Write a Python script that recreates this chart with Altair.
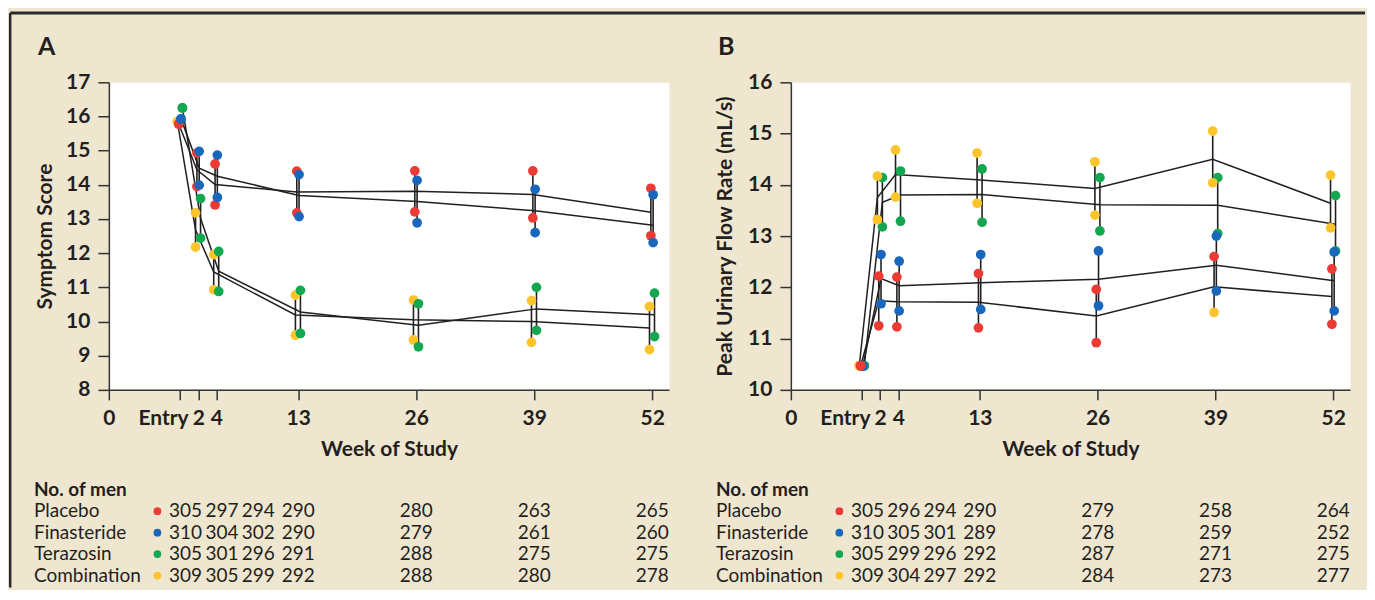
import altair as alt
import pandas as pd

# ---------------- data ----------------
WEEKS = [0, 2, 4, 13, 26, 39, 52]
TREATMENTS = ["Placebo", "Finasteride", "Terazosin", "Combination"]
COLORS = ["#EC3A34", "#1867BD", "#13A84F", "#FDC42C"]
JITTER = [-0.15, 0.1, 0.25, -0.3]  # small horizontal offset (weeks) per treatment

# Panel A: symptom score (mean, lower and upper CI) per week
A_MEAN = {
    "Placebo":     [15.78, 14.44, 14.01, 13.79, 13.81, 13.72, 13.20],
    "Finasteride": [15.93, 14.49, 14.25, 13.69, 13.51, 13.24, 12.82],
    "Terazosin":   [16.25, 13.02, 11.47, 10.28, 9.89, 10.37, 10.20],
    "Combination": [15.85, 12.68, 11.45, 10.19, 10.05, 10.00, 9.81],
}
A_LO = {
    "Placebo":     [15.78, 13.95, 13.41, 13.18, 13.21, 13.03, 12.51],
    "Finasteride": [15.93, 13.99, 13.63, 13.07, 12.89, 12.60, 12.31],
    "Terazosin":   [16.25, 12.44, 10.88, 9.65, 9.26, 9.74, 9.56],
    "Combination": [15.85, 12.18, 10.93, 9.60, 9.46, 9.39, 9.18],
}
A_HI = {
    "Placebo":     [15.78, 14.93, 14.61, 14.40, 14.41, 14.41, 13.90],
    "Finasteride": [15.93, 14.98, 14.87, 14.30, 14.13, 13.87, 13.71],
    "Terazosin":   [16.25, 13.60, 12.05, 10.91, 10.52, 11.00, 10.83],
    "Combination": [15.85, 13.18, 11.96, 10.77, 10.63, 10.61, 10.44],
}
A_N = {
    "Placebo":     [305, 297, 294, 290, 280, 263, 265],
    "Finasteride": [310, 304, 302, 290, 279, 261, 260],
    "Terazosin":   [305, 301, 296, 291, 288, 275, 275],
    "Combination": [309, 305, 299, 292, 288, 280, 278],
}

# Panel B: peak urinary flow rate (mean, lower and upper CI) per week
B_MEAN = {
    "Placebo":     [10.47, 11.74, 11.72, 11.71, 11.44, 12.01, 11.82],
    "Finasteride": [10.47, 12.17, 12.03, 12.09, 12.16, 12.43, 12.13],
    "Terazosin":   [10.47, 13.66, 13.80, 13.81, 13.61, 13.60, 13.23],
    "Combination": [10.47, 13.75, 14.20, 14.10, 13.93, 14.50, 13.64],
}
B_LO = {
    "Placebo":     [10.47, 11.25, 11.23, 11.21, 10.92, 11.51, 11.28],
    "Finasteride": [10.47, 11.68, 11.54, 11.57, 11.64, 11.93, 11.54],
    "Terazosin":   [10.47, 13.18, 13.29, 13.27, 13.10, 13.05, 12.71],
    "Combination": [10.47, 13.32, 13.76, 13.64, 13.41, 14.04, 13.16],
}
B_HI = {
    "Placebo":     [10.47, 12.22, 12.20, 12.27, 11.96, 12.60, 12.36],
    "Finasteride": [10.47, 12.64, 12.51, 12.64, 12.71, 13.00, 12.69],
    "Terazosin":   [10.47, 14.14, 14.27, 14.31, 14.14, 14.14, 13.79],
    "Combination": [10.47, 14.17, 14.68, 14.62, 14.45, 15.05, 14.19],
}
B_N = {
    "Placebo":     [305, 296, 294, 290, 279, 258, 264],
    "Finasteride": [310, 305, 301, 289, 278, 259, 252],
    "Terazosin":   [305, 299, 296, 292, 287, 271, 275],
    "Combination": [309, 304, 297, 292, 284, 273, 277],
}
# in the original, the lower placebo dot at week 39 of panel B is printed in yellow
B_RECOLOR = {("Placebo", 39, "lo"): "Combination"}

TABLE_COLS = [0.6, 4.6, 8.6, 13, 26, 39, 52]   # column positions (weeks) of the counts
TABLE_DOT = -2.5
ROWS = ["No. of men"] + TREATMENTS

# ---------------- styling ----------------
FONT = "Lato"
INK = "#231F20"
BG = "#EFE6D0"
XDOM = [-7.85, 53.85]
XTICKS = [-7.85, 0, 2, 4, 13, 26, 39, 52]
H = 308

xaxis = alt.Axis(
    values=XTICKS,
    labelExpr="datum.value < -7 ? '0' : datum.value == 0 ? 'Entry' : datum.label",
    labelAlign={"condition": {"test": "datum.value == 0", "value": "right"}, "value": "center"},
    labelOffset={"condition": {"test": "datum.value == 0", "value": 8}, "value": 0},
    labelFlush=False, labelOverlap=False, grid=False, tickSize=10, labelPadding=8,
    title="Week of Study", titleY=66, titleBaseline="alphabetic",
)
xenc = alt.X("x:Q", scale=alt.Scale(domain=XDOM, nice=False, zero=False), axis=xaxis)
color = alt.Color("series:N", scale=alt.Scale(domain=TREATMENTS, range=COLORS), legend=None)


def panel(mean, lo, hi, counts, ydom, yticks, ytitle, ytitle_x, letter, letter_x,
          order, recolor, width, frame):
    recs = []
    for k, t in enumerate(TREATMENTS):
        for i, w in enumerate(WEEKS):
            recs.append({"treatment": t, "week": w, "x": w + JITTER[k],
                         "mean": mean[t][i], "lo": lo[t][i], "hi": hi[t][i]})
    df = pd.DataFrame(recs)

    dots = []
    for t in order:
        for r in df[df.treatment == t].itertuples():
            for end in ("lo", "hi"):
                dots.append({"x": r.x, "value": getattr(r, end),
                             "series": recolor.get((t, r.week, end), t)})
    ddf = pd.DataFrame(dots)

    yaxis = alt.Axis(values=yticks, grid=False, tickSize=11, labelPadding=8,
                     title=ytitle, titleX=ytitle_x, titleY=H / 2, titleAngle=-90,
                     titleAlign="center", titleBaseline="middle")
    ysc = alt.Scale(domain=ydom, nice=False, zero=False)

    rules = alt.Chart(df).mark_rule(color=INK, strokeWidth=1.6).encode(
        x=xenc, y=alt.Y("lo:Q", scale=ysc, axis=yaxis), y2="hi:Q")
    lines = alt.Chart(df).mark_line(color=INK, strokeWidth=1.5).encode(
        x=xenc, y=alt.Y("mean:Q", scale=ysc, axis=yaxis), detail="treatment:N")
    points = alt.Chart(ddf).mark_circle(size=95, opacity=1).encode(
        x=xenc, y=alt.Y("value:Q", scale=ysc, axis=yaxis), color=color)
    plot = alt.layer(rules, lines, points)

    # table of counts below the plot
    yrow = alt.Y("row:N", scale=alt.Scale(type="point", domain=ROWS, range=[408, 494], padding=0),
                 axis=None)
    crec = []
    for t in TREATMENTS:
        for k, n in enumerate(counts[t]):
            crec.append({"row": t, "x": TABLE_COLS[k], "n": str(n)})
    cdf = pd.DataFrame(crec)
    ldf = pd.DataFrame({"row": TREATMENTS, "label": TREATMENTS,
                        "x": [TABLE_DOT] * 4, "series": TREATMENTS})
    hdf = pd.DataFrame({"row": ["No. of men"], "label": ["No. of men"]})

    cnt = alt.Chart(cdf).mark_text(font=FONT, fontSize=19, color=INK, align="center",
                                   baseline="middle").encode(x=xenc, y=yrow, text="n:N")
    lab = alt.Chart(ldf).mark_text(font=FONT, fontSize=19, color=INK, align="left",
                                   baseline="middle").encode(x=alt.value(-75), y=yrow, text="label:N")
    hdr = alt.Chart(hdf).mark_text(font=FONT, fontSize=19, fontWeight="bold", color=INK,
                                   align="left", baseline="middle").encode(
        x=alt.value(-75), y=yrow, text="label:N")
    tdot = alt.Chart(ldf).mark_circle(size=60, opacity=1).encode(x=xenc, y=yrow, color=color)
    table = alt.layer(cnt, lab, hdr, tdot)

    one = pd.DataFrame({"k": [0]})
    deco = [alt.Chart(one).mark_text(text=letter, font=FONT, fontSize=25, fontWeight="bold",
                                     color=INK, align="left", baseline="alphabetic").encode(
        x=alt.value(letter_x), y=alt.value(-27))]
    if frame:
        deco.append(alt.Chart(one).mark_rule(color="#2B2B2B", strokeWidth=3).encode(
            x=alt.value(-98.8), x2=alt.value(1258), y=alt.value(-69.5)))
        deco.append(alt.Chart(one).mark_rule(color="#2B2B2B", strokeWidth=2.5).encode(
            x=alt.value(-98.8), y=alt.value(-69.5), y2=alt.value(506)))

    return alt.layer(plot, table, *deco).resolve_scale(y="independent").properties(
        width=width, height=H)


pA = panel(A_MEAN, A_LO, A_HI, A_N, [8, 17], list(range(8, 18)), "Symptom Score", -63, "A", -71,
           ["Combination", "Terazosin", "Placebo", "Finasteride"], {}, 561, True)
pB = panel(B_MEAN, B_LO, B_HI, B_N, [10, 16], list(range(10, 17)),
           "Peak Urinary Flow Rate (mL/s)", -65, "B", -73,
           ["Terazosin", "Combination", "Finasteride", "Placebo"], B_RECOLOR, 560, False)

chart = alt.hconcat(pA, pB, spacing=122, bounds="flush").properties(
    padding={"left": 0, "top": 2, "right": 0, "bottom": 0}
).configure(background=BG, font=FONT).configure_view(
    fill="white", stroke="transparent"
).configure_axis(
    domainColor="#333333", domainWidth=1.5, tickColor="#333333", tickWidth=1.5,
    labelFont=FONT, labelFontSize=21, labelFontWeight="bold", labelColor=INK,
    titleFont=FONT, titleFontSize=21, titleFontWeight="bold", titleColor=INK,
)

chart.save("out.html", embed_options={"renderer": "svg", "actions": False})
